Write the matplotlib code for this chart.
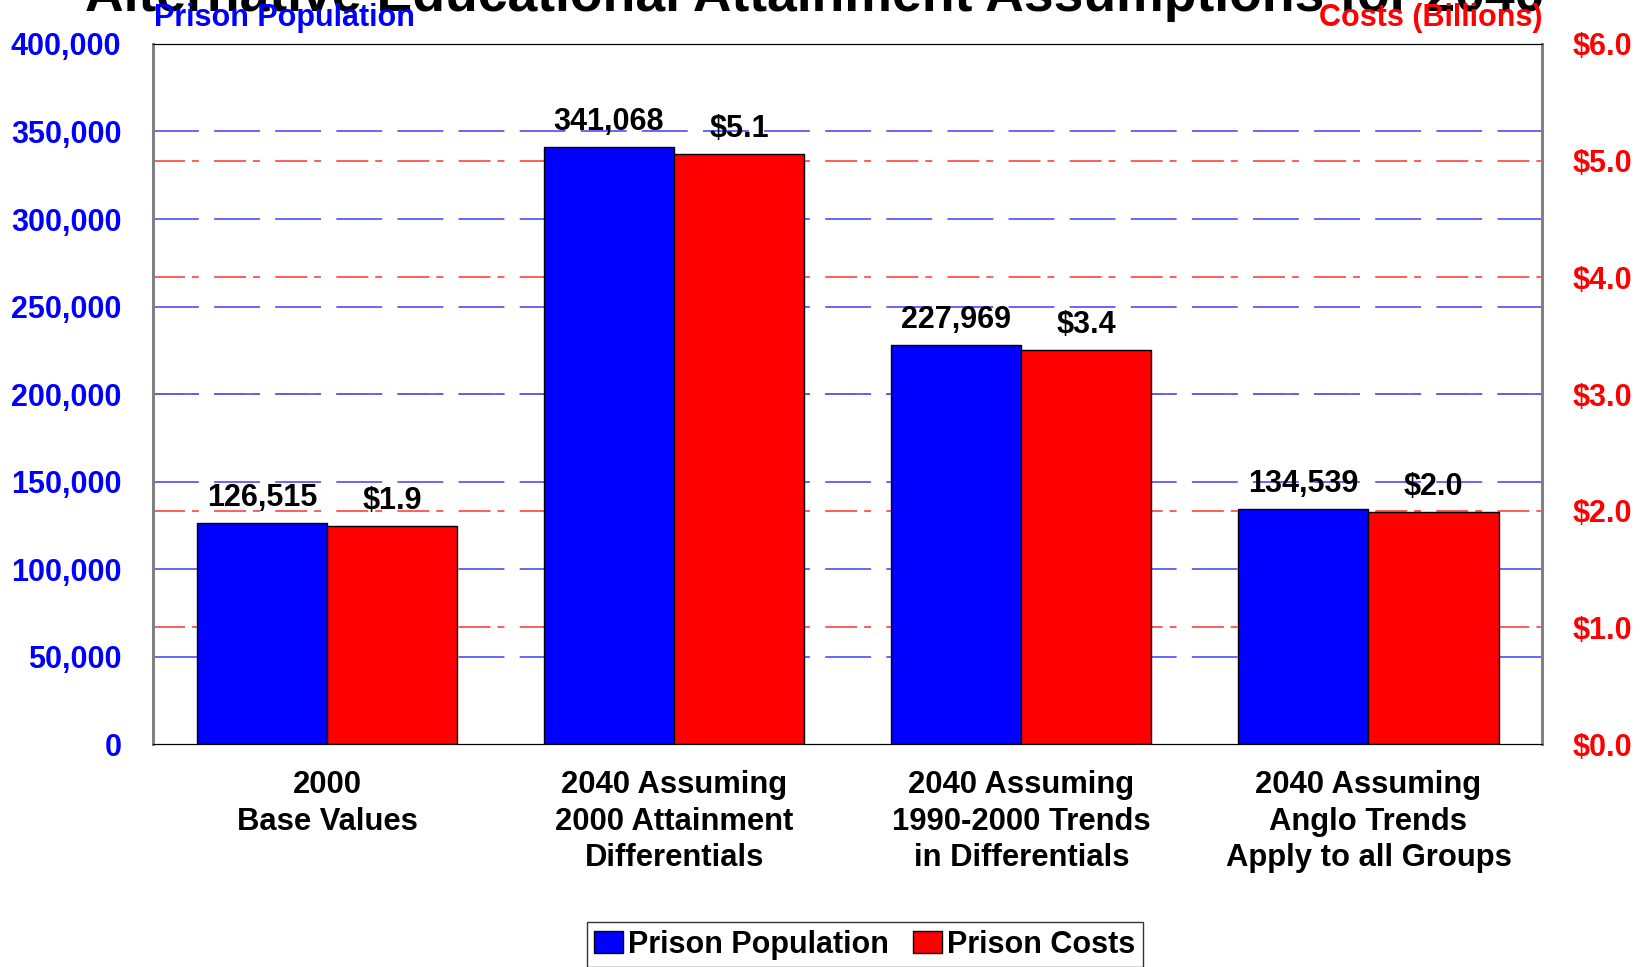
import matplotlib
matplotlib.use('Agg')
import matplotlib.pyplot as plt
from matplotlib.patches import Patch
from matplotlib.ticker import FuncFormatter

plt.rcParams['font.family'] = ['Liberation Sans', 'DejaVu Sans']
plt.rcParams['font.weight'] = 'bold'
plt.rcParams['lines.scale_dashes'] = False

# scenario data
categories = ['2000\nBase Values',
              '2040 Assuming\n2000 Attainment\nDifferentials',
              '2040 Assuming\n1990-2000 Trends\nin Differentials',
              '2040 Assuming\nAnglo Trends\nApply to all Groups']
population = [126515, 341068, 227969, 134539]
costs = [1.87, 5.06, 3.38, 1.99]  # billions of dollars

pop_ticks = [0, 50000, 100000, 150000, 200000, 250000, 300000, 350000, 400000]
cost_ticks = [0.0, 1.0, 2.0, 3.0, 4.0, 5.0, 6.0]

BLUE = '#0000ff'
RED = '#ff0000'

fig = plt.figure(figsize=(16.48, 9.67), dpi=100)
ax = fig.add_axes([0.0931, 0.2306, 0.8426, 0.7239])
ax2 = ax.twinx()

x = list(range(len(categories)))
w = 0.375
ax.set_xlim(-0.5, len(categories) - 0.5)
ax.set_ylim(0, 400000)
ax2.set_ylim(0, 6.0)

# grid lines sit under the bars; blue ones on top of red where they meet
ax.hlines(cost_ticks[1:-1], 0, 1, transform=ax2.get_yaxis_transform(),
          colors='#ff5050', linewidth=1.3, linestyles=(0, (23, 5, 5, 11)), zorder=0.5)
ax.hlines(pop_ticks[1:-1], 0, 1, transform=ax.get_yaxis_transform(),
          colors='#5a5aff', linewidth=1.3, linestyles=(0, (33, 11)), zorder=0.6)

b1 = ax.bar([i - w / 2 for i in x], population, width=w, color=BLUE,
            edgecolor='black', linewidth=1, zorder=2)
b2 = ax2.bar([i + w / 2 for i in x], costs, width=w, color=RED,
             edgecolor='black', linewidth=1, zorder=2)

for rect, v in zip(b1, population):
    ax.annotate(f'{v:,}', (rect.get_x() + rect.get_width() / 2, v),
                xytext=(0, 7), textcoords='offset points', ha='center',
                va='bottom', fontsize=22, fontweight='bold', color='black')
for rect, v in zip(b2, costs):
    ax2.annotate(f'${v:.1f}', (rect.get_x() + rect.get_width() / 2, v),
                 xytext=(0, 7), textcoords='offset points', ha='center',
                 va='bottom', fontsize=22, fontweight='bold', color='black')

ax.set_yticks(pop_ticks)
ax.yaxis.set_major_formatter(FuncFormatter(lambda v, p: f'{int(v):,}'))
ax2.set_yticks(cost_ticks)
ax2.yaxis.set_major_formatter(FuncFormatter(lambda v, p: f'${v:.1f}'))
ax.tick_params(axis='y', length=0, pad=23, labelsize=22, labelcolor=BLUE)
ax2.tick_params(axis='y', length=0, pad=22, labelsize=22, labelcolor=RED)
for lbl in ax.get_yticklabels() + ax2.get_yticklabels():
    lbl.set_fontweight('bold')

ax.set_xticks(x)
ax.set_xticklabels(categories, fontsize=22.3, fontweight='bold', linespacing=1.27)
ax.tick_params(axis='x', length=0, pad=19)

for a in (ax, ax2):
    a.spines['left'].set_color('#808080')
    a.spines['right'].set_color('#808080')
    a.spines['left'].set_linewidth(2)
    a.spines['right'].set_linewidth(2)
    a.spines['top'].set_color('black')
    a.spines['bottom'].set_color('black')

fig.text(0.4943, 1 - 11 / 967, 'Alternative Educational Attainment Assumptions for 2040',
         ha='center', va='baseline', fontsize=38.5, fontweight='bold', color='black')
fig.text(0.0937, 1 - 18 / 967, 'Prison Population', ha='left', va='center',
         fontsize=22, fontweight='bold', color=BLUE)
fig.text(0.9357, 1 - 18 / 967, 'Costs (Billions)', ha='right', va='center',
         fontsize=22, fontweight='bold', color=RED)

handles = [Patch(facecolor=BLUE, edgecolor='black'), Patch(facecolor=RED, edgecolor='black')]
fig.legend(handles, ['Prison Population', 'Prison Costs'], loc='upper center',
           bbox_to_anchor=(0.5246, 1 - 922 / 967), ncol=2, frameon=True,
           fancybox=False, edgecolor='black', handlelength=0.95,
           handleheight=0.75, handletextpad=0.15, columnspacing=0.8,
           borderpad=0.25, borderaxespad=0,
           prop={'weight': 'bold', 'size': 22})

fig.savefig('out.png', dpi=100)
